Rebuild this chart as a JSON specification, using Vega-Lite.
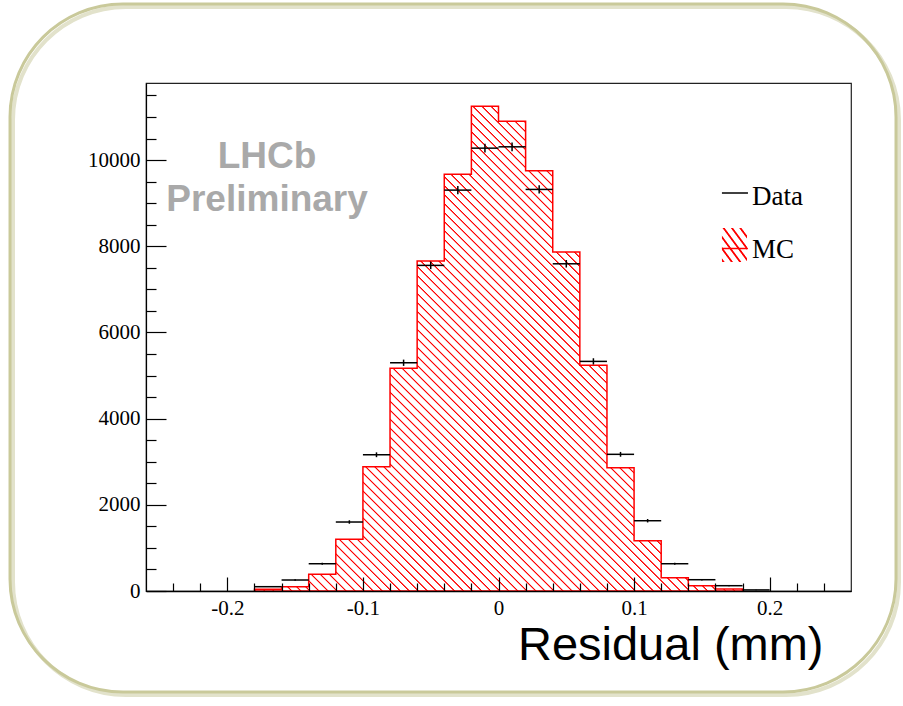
{
  "$schema": "https://vega.github.io/schema/vega-lite/v6.json",
  "autosize": {"type": "none"},
  "padding": {"left": 146, "top": 83, "right": 52, "bottom": 115},
  "width": 705,
  "height": 508,
  "background": "white",
  "config": {"view": {"stroke": "#222", "strokeWidth": 1.2}, "axis": {"labelOverlap": false, "labelBound": false, "labelFlush": false, "grid": false}},
  "resolve": {"axis": {"x": "independent", "y": "independent"}},
  "datasets": {
    "bins": [
      {"lo": -0.18, "hi": -0.16, "c": -0.17, "data": 100, "err": 10},
      {"lo": -0.16, "hi": -0.14, "c": -0.15, "data": 255, "err": 16},
      {"lo": -0.14, "hi": -0.12, "c": -0.13, "data": 633, "err": 25},
      {"lo": -0.12, "hi": -0.10, "c": -0.11, "data": 1601, "err": 40},
      {"lo": -0.10, "hi": -0.08, "c": -0.09, "data": 3162, "err": 56},
      {"lo": -0.08, "hi": -0.06, "c": -0.07, "data": 5297, "err": 73},
      {"lo": -0.06, "hi": -0.04, "c": -0.05, "data": 7557, "err": 87},
      {"lo": -0.04, "hi": -0.02, "c": -0.03, "data": 9304, "err": 96},
      {"lo": -0.02, "hi": 0.0, "c": -0.01, "data": 10278, "err": 101},
      {"lo": 0.0, "hi": 0.02, "c": 0.01, "data": 10309, "err": 102},
      {"lo": 0.02, "hi": 0.04, "c": 0.03, "data": 9320, "err": 97},
      {"lo": 0.04, "hi": 0.06, "c": 0.05, "data": 7594, "err": 87},
      {"lo": 0.06, "hi": 0.08, "c": 0.07, "data": 5329, "err": 73},
      {"lo": 0.08, "hi": 0.10, "c": 0.09, "data": 3172, "err": 56},
      {"lo": 0.10, "hi": 0.12, "c": 0.11, "data": 1631, "err": 40},
      {"lo": 0.12, "hi": 0.14, "c": 0.13, "data": 633, "err": 25},
      {"lo": 0.14, "hi": 0.16, "c": 0.15, "data": 262, "err": 16},
      {"lo": 0.16, "hi": 0.18, "c": 0.17, "data": 123, "err": 11},
      {"lo": 0.18, "hi": 0.20, "c": 0.19, "data": 25, "err": 5}
    ],
    "mc": [
      {"edge": -0.18, "n": 40},
      {"edge": -0.16, "n": 100},
      {"edge": -0.14, "n": 387},
      {"edge": -0.12, "n": 1200},
      {"edge": -0.10, "n": 2884},
      {"edge": -0.08, "n": 5167},
      {"edge": -0.06, "n": 7657},
      {"edge": -0.04, "n": 9675},
      {"edge": -0.02, "n": 11253},
      {"edge": 0.0, "n": 10905},
      {"edge": 0.02, "n": 9752},
      {"edge": 0.04, "n": 7865},
      {"edge": 0.06, "n": 5237},
      {"edge": 0.08, "n": 2861},
      {"edge": 0.10, "n": 1167},
      {"edge": 0.12, "n": 309},
      {"edge": 0.14, "n": 123},
      {"edge": 0.16, "n": 46},
      {"edge": 0.18, "n": 0}
    ],
    "one": [{}]
  },
  "layer": [
    {
      "data": {"name": "one"},
      "mark": {"type": "rect", "cornerRadius": 113, "fill": "transparent", "stroke": "#e2e2cb", "strokeWidth": 4},
      "encoding": {
        "x": {"datum": -0.3581, "type": "quantitative", "axis": null},
        "x2": {"datum": 0.2954},
        "y": {"datum": 13553, "type": "quantitative", "axis": null},
        "y2": {"datum": -2414}
      }
    },
    {
      "data": {"name": "one"},
      "mark": {"type": "rect", "cornerRadius": 113, "fill": "transparent", "stroke": "#c9c99a", "strokeWidth": 3},
      "encoding": {
        "x": {"datum": -0.3603, "type": "quantitative", "axis": null},
        "x2": {"datum": 0.2932},
        "y": {"datum": 13623, "type": "quantitative", "axis": null},
        "y2": {"datum": -2344}
      }
    },
    {
      "data": {"name": "mc"},
      "mark": {
        "type": "area",
        "interpolate": "step-after",
        "stroke": "#ff0000",
        "strokeWidth": 1.5,
        "fill": {
          "gradient": "linear", "x1": 0, "y1": 1, "x2": 0.926, "y2": 0.074,
          "stops": [
{"offset":0,"color":"#fff"},{"offset":0.001,"color":"#f00"},{"offset":0.0018,"color":"#f00"},{"offset":0.0028,"color":"#fff"},
{"offset":0.01,"color":"#fff"},{"offset":0.011,"color":"#f00"},{"offset":0.0118,"color":"#f00"},{"offset":0.0128,"color":"#fff"},
{"offset":0.02,"color":"#fff"},{"offset":0.021,"color":"#f00"},{"offset":0.0218,"color":"#f00"},{"offset":0.0228,"color":"#fff"},
{"offset":0.03,"color":"#fff"},{"offset":0.031,"color":"#f00"},{"offset":0.0318,"color":"#f00"},{"offset":0.0328,"color":"#fff"},
{"offset":0.04,"color":"#fff"},{"offset":0.041,"color":"#f00"},{"offset":0.0418,"color":"#f00"},{"offset":0.0428,"color":"#fff"},
{"offset":0.05,"color":"#fff"},{"offset":0.051,"color":"#f00"},{"offset":0.0518,"color":"#f00"},{"offset":0.0528,"color":"#fff"},
{"offset":0.06,"color":"#fff"},{"offset":0.061,"color":"#f00"},{"offset":0.0618,"color":"#f00"},{"offset":0.0628,"color":"#fff"},
{"offset":0.07,"color":"#fff"},{"offset":0.071,"color":"#f00"},{"offset":0.0718,"color":"#f00"},{"offset":0.0728,"color":"#fff"},
{"offset":0.08,"color":"#fff"},{"offset":0.081,"color":"#f00"},{"offset":0.0818,"color":"#f00"},{"offset":0.0828,"color":"#fff"},
{"offset":0.09,"color":"#fff"},{"offset":0.091,"color":"#f00"},{"offset":0.0918,"color":"#f00"},{"offset":0.0928,"color":"#fff"},
{"offset":0.10,"color":"#fff"},{"offset":0.101,"color":"#f00"},{"offset":0.1018,"color":"#f00"},{"offset":0.1028,"color":"#fff"},
{"offset":0.11,"color":"#fff"},{"offset":0.111,"color":"#f00"},{"offset":0.1118,"color":"#f00"},{"offset":0.1128,"color":"#fff"},
{"offset":0.12,"color":"#fff"},{"offset":0.121,"color":"#f00"},{"offset":0.1218,"color":"#f00"},{"offset":0.1228,"color":"#fff"},
{"offset":0.13,"color":"#fff"},{"offset":0.131,"color":"#f00"},{"offset":0.1318,"color":"#f00"},{"offset":0.1328,"color":"#fff"},
{"offset":0.14,"color":"#fff"},{"offset":0.141,"color":"#f00"},{"offset":0.1418,"color":"#f00"},{"offset":0.1428,"color":"#fff"},
{"offset":0.15,"color":"#fff"},{"offset":0.151,"color":"#f00"},{"offset":0.1518,"color":"#f00"},{"offset":0.1528,"color":"#fff"},
{"offset":0.16,"color":"#fff"},{"offset":0.161,"color":"#f00"},{"offset":0.1618,"color":"#f00"},{"offset":0.1628,"color":"#fff"},
{"offset":0.17,"color":"#fff"},{"offset":0.171,"color":"#f00"},{"offset":0.1718,"color":"#f00"},{"offset":0.1728,"color":"#fff"},
{"offset":0.18,"color":"#fff"},{"offset":0.181,"color":"#f00"},{"offset":0.1818,"color":"#f00"},{"offset":0.1828,"color":"#fff"},
{"offset":0.19,"color":"#fff"},{"offset":0.191,"color":"#f00"},{"offset":0.1918,"color":"#f00"},{"offset":0.1928,"color":"#fff"},
{"offset":0.20,"color":"#fff"},{"offset":0.201,"color":"#f00"},{"offset":0.2018,"color":"#f00"},{"offset":0.2028,"color":"#fff"},
{"offset":0.21,"color":"#fff"},{"offset":0.211,"color":"#f00"},{"offset":0.2118,"color":"#f00"},{"offset":0.2128,"color":"#fff"},
{"offset":0.22,"color":"#fff"},{"offset":0.221,"color":"#f00"},{"offset":0.2218,"color":"#f00"},{"offset":0.2228,"color":"#fff"},
{"offset":0.23,"color":"#fff"},{"offset":0.231,"color":"#f00"},{"offset":0.2318,"color":"#f00"},{"offset":0.2328,"color":"#fff"},
{"offset":0.24,"color":"#fff"},{"offset":0.241,"color":"#f00"},{"offset":0.2418,"color":"#f00"},{"offset":0.2428,"color":"#fff"},
{"offset":0.25,"color":"#fff"},{"offset":0.251,"color":"#f00"},{"offset":0.2518,"color":"#f00"},{"offset":0.2528,"color":"#fff"},
{"offset":0.26,"color":"#fff"},{"offset":0.261,"color":"#f00"},{"offset":0.2618,"color":"#f00"},{"offset":0.2628,"color":"#fff"},
{"offset":0.27,"color":"#fff"},{"offset":0.271,"color":"#f00"},{"offset":0.2718,"color":"#f00"},{"offset":0.2728,"color":"#fff"},
{"offset":0.28,"color":"#fff"},{"offset":0.281,"color":"#f00"},{"offset":0.2818,"color":"#f00"},{"offset":0.2828,"color":"#fff"},
{"offset":0.29,"color":"#fff"},{"offset":0.291,"color":"#f00"},{"offset":0.2918,"color":"#f00"},{"offset":0.2928,"color":"#fff"},
{"offset":0.30,"color":"#fff"},{"offset":0.301,"color":"#f00"},{"offset":0.3018,"color":"#f00"},{"offset":0.3028,"color":"#fff"},
{"offset":0.31,"color":"#fff"},{"offset":0.311,"color":"#f00"},{"offset":0.3118,"color":"#f00"},{"offset":0.3128,"color":"#fff"},
{"offset":0.32,"color":"#fff"},{"offset":0.321,"color":"#f00"},{"offset":0.3218,"color":"#f00"},{"offset":0.3228,"color":"#fff"},
{"offset":0.33,"color":"#fff"},{"offset":0.331,"color":"#f00"},{"offset":0.3318,"color":"#f00"},{"offset":0.3328,"color":"#fff"},
{"offset":0.34,"color":"#fff"},{"offset":0.341,"color":"#f00"},{"offset":0.3418,"color":"#f00"},{"offset":0.3428,"color":"#fff"},
{"offset":0.35,"color":"#fff"},{"offset":0.351,"color":"#f00"},{"offset":0.3518,"color":"#f00"},{"offset":0.3528,"color":"#fff"},
{"offset":0.36,"color":"#fff"},{"offset":0.361,"color":"#f00"},{"offset":0.3618,"color":"#f00"},{"offset":0.3628,"color":"#fff"},
{"offset":0.37,"color":"#fff"},{"offset":0.371,"color":"#f00"},{"offset":0.3718,"color":"#f00"},{"offset":0.3728,"color":"#fff"},
{"offset":0.38,"color":"#fff"},{"offset":0.381,"color":"#f00"},{"offset":0.3818,"color":"#f00"},{"offset":0.3828,"color":"#fff"},
{"offset":0.39,"color":"#fff"},{"offset":0.391,"color":"#f00"},{"offset":0.3918,"color":"#f00"},{"offset":0.3928,"color":"#fff"},
{"offset":0.40,"color":"#fff"},{"offset":0.401,"color":"#f00"},{"offset":0.4018,"color":"#f00"},{"offset":0.4028,"color":"#fff"},
{"offset":0.41,"color":"#fff"},{"offset":0.411,"color":"#f00"},{"offset":0.4118,"color":"#f00"},{"offset":0.4128,"color":"#fff"},
{"offset":0.42,"color":"#fff"},{"offset":0.421,"color":"#f00"},{"offset":0.4218,"color":"#f00"},{"offset":0.4228,"color":"#fff"},
{"offset":0.43,"color":"#fff"},{"offset":0.431,"color":"#f00"},{"offset":0.4318,"color":"#f00"},{"offset":0.4328,"color":"#fff"},
{"offset":0.44,"color":"#fff"},{"offset":0.441,"color":"#f00"},{"offset":0.4418,"color":"#f00"},{"offset":0.4428,"color":"#fff"},
{"offset":0.45,"color":"#fff"},{"offset":0.451,"color":"#f00"},{"offset":0.4518,"color":"#f00"},{"offset":0.4528,"color":"#fff"},
{"offset":0.46,"color":"#fff"},{"offset":0.461,"color":"#f00"},{"offset":0.4618,"color":"#f00"},{"offset":0.4628,"color":"#fff"},
{"offset":0.47,"color":"#fff"},{"offset":0.471,"color":"#f00"},{"offset":0.4718,"color":"#f00"},{"offset":0.4728,"color":"#fff"},
{"offset":0.48,"color":"#fff"},{"offset":0.481,"color":"#f00"},{"offset":0.4818,"color":"#f00"},{"offset":0.4828,"color":"#fff"},
{"offset":0.49,"color":"#fff"},{"offset":0.491,"color":"#f00"},{"offset":0.4918,"color":"#f00"},{"offset":0.4928,"color":"#fff"},
{"offset":0.50,"color":"#fff"},{"offset":0.501,"color":"#f00"},{"offset":0.5018,"color":"#f00"},{"offset":0.5028,"color":"#fff"},
{"offset":0.51,"color":"#fff"},{"offset":0.511,"color":"#f00"},{"offset":0.5118,"color":"#f00"},{"offset":0.5128,"color":"#fff"},
{"offset":0.52,"color":"#fff"},{"offset":0.521,"color":"#f00"},{"offset":0.5218,"color":"#f00"},{"offset":0.5228,"color":"#fff"},
{"offset":0.53,"color":"#fff"},{"offset":0.531,"color":"#f00"},{"offset":0.5318,"color":"#f00"},{"offset":0.5328,"color":"#fff"},
{"offset":0.54,"color":"#fff"},{"offset":0.541,"color":"#f00"},{"offset":0.5418,"color":"#f00"},{"offset":0.5428,"color":"#fff"},
{"offset":0.55,"color":"#fff"},{"offset":0.551,"color":"#f00"},{"offset":0.5518,"color":"#f00"},{"offset":0.5528,"color":"#fff"},
{"offset":0.56,"color":"#fff"},{"offset":0.561,"color":"#f00"},{"offset":0.5618,"color":"#f00"},{"offset":0.5628,"color":"#fff"},
{"offset":0.57,"color":"#fff"},{"offset":0.571,"color":"#f00"},{"offset":0.5718,"color":"#f00"},{"offset":0.5728,"color":"#fff"},
{"offset":0.58,"color":"#fff"},{"offset":0.581,"color":"#f00"},{"offset":0.5818,"color":"#f00"},{"offset":0.5828,"color":"#fff"},
{"offset":0.59,"color":"#fff"},{"offset":0.591,"color":"#f00"},{"offset":0.5918,"color":"#f00"},{"offset":0.5928,"color":"#fff"},
{"offset":0.60,"color":"#fff"},{"offset":0.601,"color":"#f00"},{"offset":0.6018,"color":"#f00"},{"offset":0.6028,"color":"#fff"},
{"offset":0.61,"color":"#fff"},{"offset":0.611,"color":"#f00"},{"offset":0.6118,"color":"#f00"},{"offset":0.6128,"color":"#fff"},
{"offset":0.62,"color":"#fff"},{"offset":0.621,"color":"#f00"},{"offset":0.6218,"color":"#f00"},{"offset":0.6228,"color":"#fff"},
{"offset":0.63,"color":"#fff"},{"offset":0.631,"color":"#f00"},{"offset":0.6318,"color":"#f00"},{"offset":0.6328,"color":"#fff"},
{"offset":0.64,"color":"#fff"},{"offset":0.641,"color":"#f00"},{"offset":0.6418,"color":"#f00"},{"offset":0.6428,"color":"#fff"},
{"offset":0.65,"color":"#fff"},{"offset":0.651,"color":"#f00"},{"offset":0.6518,"color":"#f00"},{"offset":0.6528,"color":"#fff"},
{"offset":0.66,"color":"#fff"},{"offset":0.661,"color":"#f00"},{"offset":0.6618,"color":"#f00"},{"offset":0.6628,"color":"#fff"},
{"offset":0.67,"color":"#fff"},{"offset":0.671,"color":"#f00"},{"offset":0.6718,"color":"#f00"},{"offset":0.6728,"color":"#fff"},
{"offset":0.68,"color":"#fff"},{"offset":0.681,"color":"#f00"},{"offset":0.6818,"color":"#f00"},{"offset":0.6828,"color":"#fff"},
{"offset":0.69,"color":"#fff"},{"offset":0.691,"color":"#f00"},{"offset":0.6918,"color":"#f00"},{"offset":0.6928,"color":"#fff"},
{"offset":0.70,"color":"#fff"},{"offset":0.701,"color":"#f00"},{"offset":0.7018,"color":"#f00"},{"offset":0.7028,"color":"#fff"},
{"offset":0.71,"color":"#fff"},{"offset":0.711,"color":"#f00"},{"offset":0.7118,"color":"#f00"},{"offset":0.7128,"color":"#fff"},
{"offset":0.72,"color":"#fff"},{"offset":0.721,"color":"#f00"},{"offset":0.7218,"color":"#f00"},{"offset":0.7228,"color":"#fff"},
{"offset":0.73,"color":"#fff"},{"offset":0.731,"color":"#f00"},{"offset":0.7318,"color":"#f00"},{"offset":0.7328,"color":"#fff"},
{"offset":0.74,"color":"#fff"},{"offset":0.741,"color":"#f00"},{"offset":0.7418,"color":"#f00"},{"offset":0.7428,"color":"#fff"},
{"offset":0.75,"color":"#fff"},{"offset":0.751,"color":"#f00"},{"offset":0.7518,"color":"#f00"},{"offset":0.7528,"color":"#fff"},
{"offset":0.76,"color":"#fff"},{"offset":0.761,"color":"#f00"},{"offset":0.7618,"color":"#f00"},{"offset":0.7628,"color":"#fff"},
{"offset":0.77,"color":"#fff"},{"offset":0.771,"color":"#f00"},{"offset":0.7718,"color":"#f00"},{"offset":0.7728,"color":"#fff"},
{"offset":0.78,"color":"#fff"},{"offset":0.781,"color":"#f00"},{"offset":0.7818,"color":"#f00"},{"offset":0.7828,"color":"#fff"},
{"offset":0.79,"color":"#fff"},{"offset":0.791,"color":"#f00"},{"offset":0.7918,"color":"#f00"},{"offset":0.7928,"color":"#fff"},
{"offset":0.80,"color":"#fff"},{"offset":0.801,"color":"#f00"},{"offset":0.8018,"color":"#f00"},{"offset":0.8028,"color":"#fff"},
{"offset":0.81,"color":"#fff"},{"offset":0.811,"color":"#f00"},{"offset":0.8118,"color":"#f00"},{"offset":0.8128,"color":"#fff"},
{"offset":0.82,"color":"#fff"},{"offset":0.821,"color":"#f00"},{"offset":0.8218,"color":"#f00"},{"offset":0.8228,"color":"#fff"},
{"offset":0.83,"color":"#fff"},{"offset":0.831,"color":"#f00"},{"offset":0.8318,"color":"#f00"},{"offset":0.8328,"color":"#fff"},
{"offset":0.84,"color":"#fff"},{"offset":0.841,"color":"#f00"},{"offset":0.8418,"color":"#f00"},{"offset":0.8428,"color":"#fff"},
{"offset":0.85,"color":"#fff"},{"offset":0.851,"color":"#f00"},{"offset":0.8518,"color":"#f00"},{"offset":0.8528,"color":"#fff"},
{"offset":0.86,"color":"#fff"},{"offset":0.861,"color":"#f00"},{"offset":0.8618,"color":"#f00"},{"offset":0.8628,"color":"#fff"},
{"offset":0.87,"color":"#fff"},{"offset":0.871,"color":"#f00"},{"offset":0.8718,"color":"#f00"},{"offset":0.8728,"color":"#fff"},
{"offset":0.88,"color":"#fff"},{"offset":0.881,"color":"#f00"},{"offset":0.8818,"color":"#f00"},{"offset":0.8828,"color":"#fff"},
{"offset":0.89,"color":"#fff"},{"offset":0.891,"color":"#f00"},{"offset":0.8918,"color":"#f00"},{"offset":0.8928,"color":"#fff"},
{"offset":0.90,"color":"#fff"},{"offset":0.901,"color":"#f00"},{"offset":0.9018,"color":"#f00"},{"offset":0.9028,"color":"#fff"},
{"offset":0.91,"color":"#fff"},{"offset":0.911,"color":"#f00"},{"offset":0.9118,"color":"#f00"},{"offset":0.9128,"color":"#fff"},
{"offset":0.92,"color":"#fff"},{"offset":0.921,"color":"#f00"},{"offset":0.9218,"color":"#f00"},{"offset":0.9228,"color":"#fff"},
{"offset":0.93,"color":"#fff"},{"offset":0.931,"color":"#f00"},{"offset":0.9318,"color":"#f00"},{"offset":0.9328,"color":"#fff"},
{"offset":0.94,"color":"#fff"},{"offset":0.941,"color":"#f00"},{"offset":0.9418,"color":"#f00"},{"offset":0.9428,"color":"#fff"},
{"offset":0.95,"color":"#fff"},{"offset":0.951,"color":"#f00"},{"offset":0.9518,"color":"#f00"},{"offset":0.9528,"color":"#fff"},
{"offset":0.96,"color":"#fff"},{"offset":0.961,"color":"#f00"},{"offset":0.9618,"color":"#f00"},{"offset":0.9628,"color":"#fff"},
{"offset":0.97,"color":"#fff"},{"offset":0.971,"color":"#f00"},{"offset":0.9718,"color":"#f00"},{"offset":0.9728,"color":"#fff"},
{"offset":0.98,"color":"#fff"},{"offset":0.981,"color":"#f00"},{"offset":0.9818,"color":"#f00"},{"offset":0.9828,"color":"#fff"},
{"offset":0.99,"color":"#fff"},{"offset":0.991,"color":"#f00"},{"offset":0.9918,"color":"#f00"},{"offset":0.9928,"color":"#fff"},
{"offset":1,"color":"#fff"}
          ]
        }
      },
      "encoding": {
        "x": {
          "field": "edge", "type": "quantitative",
          "scale": {"domain": [-0.26, 0.26], "nice": false, "zero": false},
          "axis": {
            "orient": "bottom",
            "title": "Residual (mm)",
            "values": [-0.2, -0.1, 0, 0.1, 0.2],
            "labelExpr": "toString(datum.value)",
            "tickSize": -14,
            "labelPadding": 20,
            "labelFont": "Liberation Serif",
            "labelFontSize": 21,
            "labelColor": "black",
            "labelFlush": false,
            "labelOverlap": false,
            "labelBound": false,
            "tickColor": "black",
            "tickWidth": 1.2,
            "domainColor": "black",
            "domainWidth": 1.5,
            "grid": false,
            "zindex": 1,
            "titleFont": "Liberation Sans",
            "titleFontSize": 47,
            "titleFontWeight": "normal",
            "titleColor": "black",
            "titleX": 677,
            "titleY": 68,
            "titleAlign": "right",
            "titleBaseline": "alphabetic",
            "titleAnchor": "start"
          }
        },
        "y": {
          "field": "n", "type": "quantitative",
          "scale": {"domain": [0, 11790], "nice": false, "zero": true},
          "axis": {
            "orient": "left",
            "title": null,
            "values": [0, 2000, 4000, 6000, 8000, 10000],
            "labelExpr": "toString(datum.value)",
            "tickSize": -20,
            "labelPadding": 26,
            "labelFont": "Liberation Serif",
            "labelFontSize": 21,
            "labelColor": "black",
            "labelFlush": false,
            "labelOverlap": false,
            "labelBound": false,
            "tickColor": "black",
            "tickWidth": 1.2,
            "domainColor": "black",
            "domainWidth": 1.2,
            "grid": false,
            "zindex": 1
          }
        }
      }
    },
    {
      "data": {"name": "bins"},
      "mark": {"type": "rule", "strokeWidth": 1.5, "color": "black"},
      "encoding": {
        "x": {
          "field": "lo", "type": "quantitative",
          "axis": {
            "orient": "bottom",
            "title": null,
            "values": [-0.24, -0.22, -0.18, -0.16, -0.14, -0.12, -0.08, -0.06, -0.04, -0.02, 0.02, 0.04, 0.06, 0.08, 0.12, 0.14, 0.16, 0.18, 0.22, 0.24],
            "labels": false,
            "domain": false,
            "tickSize": -8,
            "tickColor": "black",
            "tickWidth": 1.2,
            "grid": false,
            "zindex": 1
          }
        },
        "x2": {"field": "hi"},
        "y": {
          "field": "data", "type": "quantitative",
          "axis": {
            "orient": "left",
            "title": null,
            "values": [500, 1000, 1500, 2500, 3000, 3500, 4500, 5000, 5500, 6500, 7000, 7500, 8500, 9000, 9500, 10500, 11000, 11500],
            "labels": false,
            "domain": false,
            "tickSize": -10,
            "tickColor": "black",
            "tickWidth": 1.2,
            "grid": false,
            "zindex": 1
          }
        }
      }
    },
    {
      "data": {"name": "bins"},
      "mark": {"type": "errorbar", "color": "black", "thickness": 1.5},
      "encoding": {
        "x": {"field": "c", "type": "quantitative", "axis": null},
        "y": {"field": "data", "type": "quantitative", "axis": null},
        "yError": {"field": "err"}
      }
    },
    {
      "data": {"name": "one"},
      "mark": {"type": "text", "font": "Liberation Sans", "fontWeight": "bold", "fontSize": 37, "color": "#a9a9a9", "align": "center", "baseline": "alphabetic", "lineHeight": 43},
      "encoding": {
        "x": {"datum": -0.1707, "type": "quantitative", "axis": null},
        "y": {"datum": 9817, "type": "quantitative", "axis": null},
        "text": {"value": ["LHCb", "Preliminary"]}
      }
    },
    {
      "data": {"name": "one"},
      "mark": {"type": "rule", "color": "black", "strokeWidth": 1.5},
      "encoding": {
        "x": {"datum": 0.1648, "type": "quantitative", "axis": null},
        "x2": {"datum": 0.1840},
        "y": {"datum": 9237, "type": "quantitative", "axis": null}
      }
    },
    {
      "data": {"name": "one"},
      "mark": {
        "type": "rect",
        "fill": {
          "gradient": "linear", "x1": 0, "y1": 1, "x2": 1, "y2": 0,
          "stops": [
            {"offset": 0, "color": "#fff"}, {"offset": 0.02, "color": "#f00"}, {"offset": 0.045, "color": "#f00"}, {"offset": 0.065, "color": "#fff"},
            {"offset": 0.1667, "color": "#fff"}, {"offset": 0.1867, "color": "#f00"}, {"offset": 0.2117, "color": "#f00"}, {"offset": 0.2317, "color": "#fff"},
            {"offset": 0.3333, "color": "#fff"}, {"offset": 0.3533, "color": "#f00"}, {"offset": 0.3783, "color": "#f00"}, {"offset": 0.3983, "color": "#fff"},
            {"offset": 0.5, "color": "#fff"}, {"offset": 0.52, "color": "#f00"}, {"offset": 0.545, "color": "#f00"}, {"offset": 0.565, "color": "#fff"},
            {"offset": 0.6667, "color": "#fff"}, {"offset": 0.6867, "color": "#f00"}, {"offset": 0.7117, "color": "#f00"}, {"offset": 0.7317, "color": "#fff"},
            {"offset": 0.8333, "color": "#fff"}, {"offset": 0.8533, "color": "#f00"}, {"offset": 0.8783, "color": "#f00"}, {"offset": 0.8983, "color": "#fff"},
            {"offset": 1, "color": "#fff"}
          ]
        }
      },
      "encoding": {
        "x": {"datum": 0.1648, "type": "quantitative", "axis": null},
        "x2": {"datum": 0.1833},
        "y": {"datum": 8425, "type": "quantitative", "axis": null},
        "y2": {"datum": 7636}
      }
    },
    {
      "data": {"name": "one"},
      "mark": {"type": "rule", "color": "#ff0000", "strokeWidth": 1.5},
      "encoding": {
        "x": {"datum": 0.1648, "type": "quantitative", "axis": null},
        "x2": {"datum": 0.1840},
        "y": {"datum": 7949, "type": "quantitative", "axis": null}
      }
    },
    {
      "data": {"name": "one"},
      "mark": {"type": "text", "font": "Liberation Serif", "fontSize": 27, "color": "black", "align": "left", "baseline": "alphabetic"},
      "encoding": {
        "x": {"datum": 0.1870, "type": "quantitative", "axis": null},
        "y": {"datum": 8970, "type": "quantitative", "axis": null},
        "text": {"value": "Data"}
      }
    },
    {
      "data": {"name": "one"},
      "mark": {"type": "text", "font": "Liberation Serif", "fontSize": 27, "color": "black", "align": "left", "baseline": "alphabetic"},
      "encoding": {
        "x": {"datum": 0.1870, "type": "quantitative", "axis": null},
        "y": {"datum": 7728, "type": "quantitative", "axis": null},
        "text": {"value": "MC"}
      }
    }
  ]
}
